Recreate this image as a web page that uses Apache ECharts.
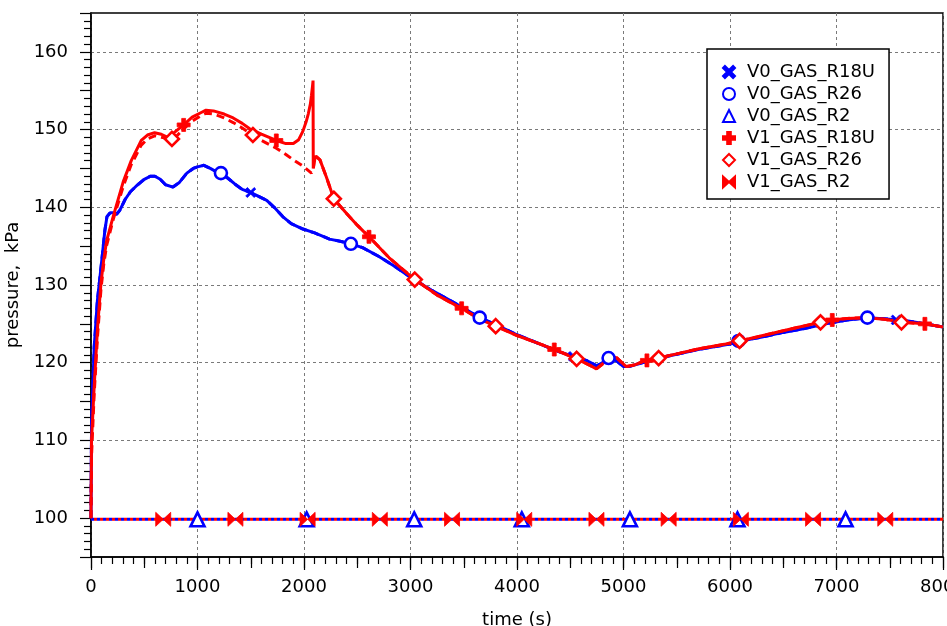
<!DOCTYPE html>
<html><head><meta charset="utf-8">
<script src="https://cdn.jsdelivr.net/npm/echarts@6/dist/echarts.min.js"></script>
<style>html,body{margin:0;padding:0;background:#fff}#c{width:947px;height:626px}</style>
</head><body><div id="c"></div><script>
// ---------- data ----------
var xTickLabels = [0, 1000, 2000, 3000, 4000, 5000, 6000, 7000, 8000];
var yTickLabels = [100, 110, 120, 130, 140, 150, 160];

// V0_GAS_R18U (blue, solid)
var v0R18U_t = [0, 5, 30, 60, 100, 130, 150, 180, 210, 240, 270, 320, 370, 430, 500, 560, 600, 650, 700, 770, 830, 900, 960, 1000, 1060, 1120, 1200, 1280, 1350, 1420, 1500, 1560, 1650, 1720, 1800, 1880, 1990, 2100, 2240, 2350, 2440, 2550, 2700, 2850, 3000, 3200, 3400, 3650, 3800, 4000, 4200, 4400, 4550, 4650, 4750, 4800, 4860, 4920, 5000, 5050, 5150, 5300, 5500, 5700, 6000, 6100, 6300, 6500, 6700, 6900, 7100, 7300, 7500, 7700, 8000];
var v0R18U_p = [100, 112, 122, 128, 133, 137, 138.8, 139.3, 139.3, 139.1, 139.6, 141, 142, 142.8, 143.6, 144.0, 144.0, 143.6, 142.9, 142.6, 143.2, 144.4, 145.0, 145.2, 145.4, 145.0, 144.4, 143.8, 143.0, 142.3, 141.9, 141.5, 140.9, 140.0, 138.8, 137.9, 137.2, 136.7, 135.9, 135.6, 135.3, 134.8, 133.7, 132.4, 131.0, 129.3, 127.8, 125.8, 124.9, 123.6, 122.5, 121.4, 120.7, 120.3, 119.6, 120.0, 120.6, 120.4, 119.5, 119.5, 119.9, 120.5, 121.1, 121.7, 122.4, 122.8, 123.3, 123.9, 124.4, 125.0, 125.5, 125.8, 125.6, 125.3, 124.6];
var v0R18U_markT = [1500, 4530, 7560];
var v0R18U_markP = [141.9, 120.8, 125.5];

// V0_GAS_R26 (blue, dashed; lies under the solid one)
var v0R26_t = [0, 5, 30, 60, 100, 130, 150, 180, 210, 240, 270, 320, 370, 430, 500, 560, 600, 650, 700, 770, 830, 900, 960, 1000, 1060, 1120, 1200, 1280, 1350, 1420, 1500, 1560, 1650, 1720, 1800, 1880, 1990, 2100, 2240, 2350, 2440, 2550, 2700, 2850, 3000, 3200, 3400, 3650, 3800, 4000, 4200, 4400, 4550, 4650, 4750, 4800, 4860, 4920, 5000, 5050, 5150, 5300, 5500, 5700, 6000, 6100, 6300, 6500, 6700, 6900, 7100, 7300, 7500, 7700, 8000];
var v0R26_p = [100, 112, 122, 128, 133, 137, 138.8, 139.3, 139.3, 139.1, 139.6, 141, 142, 142.8, 143.6, 144.0, 144.0, 143.6, 142.9, 142.6, 143.2, 144.4, 145.0, 145.2, 145.4, 145.0, 144.4, 143.8, 143.0, 142.3, 141.9, 141.5, 140.9, 140.0, 138.8, 137.9, 137.2, 136.7, 135.9, 135.6, 135.3, 134.8, 133.7, 132.4, 131.0, 129.3, 127.8, 125.8, 124.9, 123.6, 122.5, 121.4, 120.7, 120.3, 119.6, 120.0, 120.6, 120.4, 119.5, 119.5, 119.9, 120.5, 121.1, 121.7, 122.4, 122.8, 123.3, 123.9, 124.4, 125.0, 125.5, 125.8, 125.6, 125.3, 124.6];
var v0R26_markT = [1220, 2440, 3650, 4860, 6080, 7290];
var v0R26_markP = [144.4, 135.3, 125.8, 120.6, 122.8, 125.8];

// V0_GAS_R2 (blue, dotted)
var v0R2_t = [0, 8000];
var v0R2_p = [99.85, 99.85];
var v0R2_markT = [1000, 2025, 3035, 4045, 5060, 6070, 7085];
var v0R2_markP = [99.85, 99.85, 99.85, 99.85, 99.85, 99.85, 99.85];

// V1_GAS_R18U (red, solid)
var v1R18U_t = [0, 5, 30, 62, 94, 120, 147, 210, 303, 378, 472, 530, 597, 660, 720, 780, 870, 950, 1035, 1080, 1150, 1250, 1335, 1420, 1490, 1600, 1740, 1830, 1900, 1950, 1990, 2020, 2040, 2060, 2070, 2080, 2085, 2087, 2095, 2110, 2150, 2210, 2280, 2400, 2500, 2620, 2800, 3040, 3250, 3490, 3650, 3800, 4000, 4200, 4360, 4560, 4680, 4745, 4800, 4870, 4940, 5025, 5100, 5210, 5330, 5520, 5710, 5960, 6090, 6250, 6400, 6590, 6850, 6950, 7100, 7280, 7450, 7620, 7830, 8000];
var v1R18U_p = [100, 110, 117, 124.6, 130.3, 133.3, 135.7, 138.9, 143.3, 146.0, 148.6, 149.3, 149.6, 149.4, 149.0, 149.6, 150.6, 151.6, 152.2, 152.5, 152.4, 152.0, 151.5, 150.8, 150.1, 149.4, 148.6, 148.2, 148.2, 148.7, 149.8, 151.0, 152.0, 153.3, 154.4, 155.6, 156.3, 145.0, 145.8, 146.6, 146.1, 143.9, 141.1, 139.2, 137.7, 136.1, 133.5, 130.7, 128.7, 126.9, 125.6, 124.7, 123.5, 122.5, 121.7, 120.5, 119.7, 119.2, 119.8, 120.9, 120.6, 119.5, 119.7, 120.3, 120.6, 121.2, 121.8, 122.4, 122.8, 123.3, 123.8, 124.4, 125.2, 125.5, 125.7, 125.8, 125.6, 125.2, 125.0, 124.6];
var v1R18U_markT = [870, 1740, 2610, 3480, 4350, 5220, 6090, 6960, 7830];
var v1R18U_markP = [150.6, 148.6, 136.2, 127.0, 121.7, 120.3, 122.8, 125.5, 125.0];

// V1_GAS_R26 (red, dashed)
var v1R26_t = [0, 5, 30, 62, 94, 120, 147, 210, 303, 378, 472, 530, 597, 660, 760, 800, 870, 950, 1035, 1080, 1150, 1250, 1335, 1420, 1520, 1600, 1740, 1830, 1900, 1990, 2070, 2088, 2095, 2110, 2150, 2210, 2280, 2400, 2500, 2620, 2800, 3040, 3250, 3490, 3650, 3800, 4000, 4200, 4360, 4560, 4680, 4745, 4800, 4870, 4940, 5025, 5100, 5210, 5330, 5520, 5710, 5960, 6090, 6250, 6400, 6590, 6850, 6950, 7100, 7280, 7450, 7620, 7830, 8000];
var v1R26_p = [100, 108, 116, 123.5, 129.5, 132.7, 135.1, 138.5, 142.7, 145.5, 148.0, 148.8, 149.2, 149.0, 148.8, 149.1, 150.1, 151.1, 151.8, 152.1, 152.0, 151.5, 150.9, 150.2, 149.3, 148.6, 147.6, 146.8, 146.1, 145.3, 144.4, 145.0, 145.8, 146.6, 146.1, 143.9, 141.1, 139.2, 137.7, 136.1, 133.5, 130.7, 128.7, 126.9, 125.6, 124.7, 123.5, 122.5, 121.7, 120.5, 119.7, 119.2, 119.8, 120.9, 120.6, 119.5, 119.7, 120.3, 120.6, 121.2, 121.8, 122.4, 122.8, 123.3, 123.8, 124.4, 125.2, 125.5, 125.7, 125.8, 125.6, 125.2, 125.0, 124.6];
var v1R26_markT = [760, 1520, 2280, 3040, 3800, 4560, 5330, 6090, 6850, 7610];
var v1R26_markP = [148.8, 149.3, 141.1, 130.7, 124.7, 120.5, 120.6, 122.8, 125.2, 125.2];

// V1_GAS_R2 (red, dotted)
var v1R2_t = [0, 8000];
var v1R2_p = [99.85, 99.85];
var v1R2_markT = [678, 1356, 2034, 2712, 3390, 4068, 4746, 5424, 6102, 6780, 7458];
var v1R2_markP = [99.85, 99.85, 99.85, 99.85, 99.85, 99.85, 99.85, 99.85, 99.85, 99.85, 99.85];

// ---------- helpers ----------
function pairs(t, p) { return t.map(function (v, i) { return [v, p[i]]; }); }
function merged(t, p, mt, mp) {
  var a = pairs(t, p).concat(pairs(mt, mp));
  a.sort(function (u, v) { return u[0] - v[0]; });
  return a;
}
var BLUE = '#0000ff', RED = '#ff0000';
var FONT = 'DejaVu Sans';
var SYM_X = 'path://M0,1.6 L1.6,0 L5,3.4 L8.4,0 L10,1.6 L6.6,5 L10,8.4 L8.4,10 L5,6.6 L1.6,10 L0,8.4 L3.4,5 Z';
var SYM_PLUS = 'path://M3.5,0 H6.5 V3.5 H10 V6.5 H6.5 V10 H3.5 V6.5 H0 V3.5 H3.5 Z';
var SYM_BOW = 'path://M0,0 L5.5,5 L11,0 L11,10 L5.5,5 L0,10 Z';

function lineSeries(t, p, mt, mp, color, type, offset, z) {
  return {
    type: 'line', data: merged(t, p, mt, mp), showSymbol: false, silent: true,
    legendHoverLink: false, z: z,
    lineStyle: { color: color, width: 3, type: type, dashOffset: offset || 0, cap: 'butt' },
    animation: false
  };
}
function markSeries(name, mt, mp, symbol, size, color, hollow, z) {
  return {
    name: name, type: 'scatter', data: pairs(mt, mp), symbol: symbol, symbolSize: size, z: z,
    itemStyle: hollow ? { color: '#ffffff', borderColor: color, borderWidth: 2.6, opacity: 1 }
                      : { color: color, borderColor: color, borderWidth: 0.8, opacity: 1 },
    animation: false
  };
}

var chart = echarts.init(document.getElementById('c'), null, { renderer: 'canvas' });
var axisLabelStyle = { color: '#000', fontFamily: FONT, fontSize: 18 };

chart.setOption({
  animation: false,
  backgroundColor: '#ffffff',
  grid: { left: 91, right: 4, top: 13, bottom: 69, containLabel: false, outerBoundsMode: 'none',
          show: true, borderColor: '#000', borderWidth: 1.5, backgroundColor: 'transparent' },
  legend: {
    orient: 'vertical', left: 707, top: 49,
    padding: [14, 14, 8, 15], itemGap: 4, itemWidth: 12, itemHeight: 12,
    backgroundColor: '#ffffff', borderColor: '#000', borderWidth: 1.5,
    textStyle: { color: '#000', fontFamily: FONT, fontSize: 18, lineHeight: 17.5, padding: [0, 0, 0, 7] },
    data: ['V0_GAS_R18U', 'V0_GAS_R26', 'V0_GAS_R2', 'V1_GAS_R18U', 'V1_GAS_R26', 'V1_GAS_R2'],
    selectedMode: false
  },
  xAxis: [{
    type: 'value', position: 'bottom', min: 0, max: 8000, interval: 1000,
    name: 'time (s)', nameLocation: 'middle', nameGap: 54,
    nameTextStyle: axisLabelStyle,
    axisLine: { show: true, onZero: false, lineStyle: { color: '#000', width: 1.5 } },
    axisTick: { show: true, inside: false, length: 13, lineStyle: { color: '#000', width: 1.2 } },
    minorTick: { show: true, splitNumber: 10, length: 7, lineStyle: { color: '#000', width: 1.2 } },
    axisLabel: Object.assign({ margin: 21, hideOverlap: false, formatter: function (v) { return xTickLabels.indexOf(v) >= 0 ? String(v) : ''; } }, axisLabelStyle),
    splitLine: { show: true, lineStyle: { color: '#7a7a7a', width: 1, type: [3, 3] } }
  }, {
    type: 'value', position: 'bottom', min: 0, max: 8000, interval: 500,
    axisLine: { show: false }, axisLabel: { show: false }, splitLine: { show: false },
    axisTick: { show: true, length: 11, lineStyle: { color: '#000', width: 1.2 } }
  }],
  yAxis: [{
    type: 'value', position: 'left', min: 95, max: 165, interval: 5,
    name: 'pressure,  kPa', nameLocation: 'middle', nameGap: 63,
    nameTextStyle: axisLabelStyle,
    axisLine: { show: true, onZero: false, lineStyle: { color: '#000', width: 1.5 } },
    axisTick: { show: true, inside: false, length: 11, lineStyle: { color: '#000', width: 1.2 } },
    minorTick: { show: true, splitNumber: 5, length: 7, lineStyle: { color: '#000', width: 1.2 } },
    axisLabel: Object.assign({ margin: 23, formatter: function (v) { return yTickLabels.indexOf(v) >= 0 ? String(v) : ''; } }, axisLabelStyle),
    splitLine: { show: true, lineStyle: { color: ['rgba(0,0,0,0)', '#7a7a7a'], width: 1, type: [3, 3] } }
  }],
  series: [
    lineSeries(v0R2_t, v0R2_p, v0R2_markT, v0R2_markP, BLUE, [3, 3], 0, 2),
    lineSeries(v1R2_t, v1R2_p, v1R2_markT, v1R2_markP, RED, [3, 3], 3, 3),
    lineSeries(v0R26_t, v0R26_p, v0R26_markT, v0R26_markP, BLUE, [8, 5], 0, 2),
    lineSeries(v0R18U_t, v0R18U_p, v0R18U_markT, v0R18U_markP, BLUE, 'solid', 0, 2),
    lineSeries(v1R26_t, v1R26_p, v1R26_markT, v1R26_markP, RED, [8, 5], 0, 3),
    lineSeries(v1R18U_t, v1R18U_p, v1R18U_markT, v1R18U_markP, RED, 'solid', 0, 3),
    markSeries('V0_GAS_R18U', v0R18U_markT, v0R18U_markP, SYM_X, 10, BLUE, false, 5),
    markSeries('V0_GAS_R26', v0R26_markT, v0R26_markP, 'circle', 12, BLUE, true, 5),
    markSeries('V0_GAS_R2', v0R2_markT, v0R2_markP, 'triangle', 14, BLUE, true, 5),
    markSeries('V1_GAS_R18U', v1R18U_markT, v1R18U_markP, SYM_PLUS, 13, RED, false, 6),
    markSeries('V1_GAS_R26', v1R26_markT, v1R26_markP, 'diamond', [14, 14], RED, true, 6),
    markSeries('V1_GAS_R2', v1R2_markT, v1R2_markP, SYM_BOW, [15, 14], RED, false, 6)
  ]
});
</script></body></html>
